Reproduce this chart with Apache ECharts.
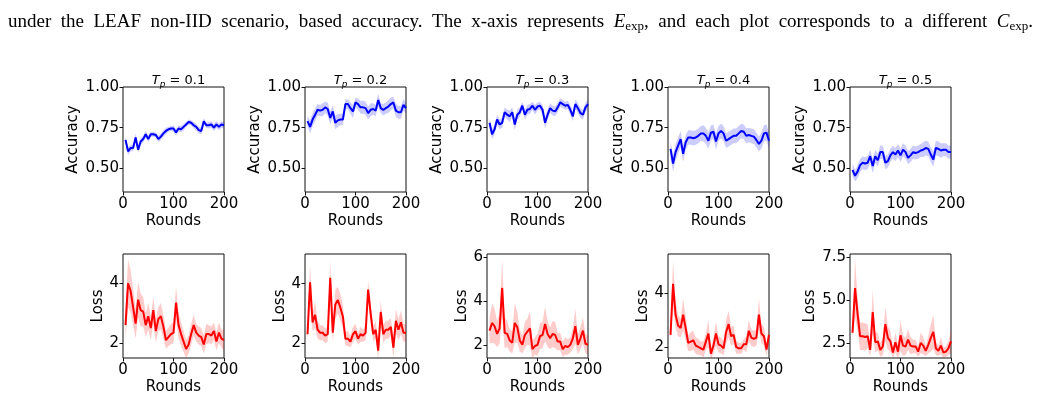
<!DOCTYPE html>
<html>
<head>
<meta charset="utf-8">
<script src="https://cdn.jsdelivr.net/npm/echarts@6/dist/echarts.min.js"></script>
<style>
  html, body { margin: 0; padding: 0; background: #fff; }
  #main { width: 1039px; height: 401px; }
</style>
</head>
<body>
<div id="main"></div>
<script>
// rounds (x) shared by all panels
const rounds = [5,10,15,20,25,30,35,40,45,50,55,60,65,70,75,80,85,90,95,100,
  105,110,115,120,125,130,135,140,145,150,155,160,165,170,175,180,185,190,195,200];
const tpLabels = ['0.1', '0.2', '0.3', '0.4', '0.5'];

// accuracy, mean and std
const accMean1 = [0.675,0.605,0.625,0.625,0.69,0.615,0.665,0.68,0.71,0.68,0.71,0.71,0.705,0.68,0.695,0.715,0.73,0.74,0.745,0.745,
  0.72,0.745,0.74,0.755,0.77,0.785,0.78,0.765,0.755,0.735,0.73,0.79,0.765,0.765,0.77,0.75,0.77,0.755,0.77,0.765];
const accStd1 = [0.02,0.025,0.02,0.02,0.025,0.02,0.02,0.02,0.02,0.02,0.015,0.015,0.015,0.02,0.02,0.02,0.02,0.015,0.015,0.02,
  0.02,0.02,0.02,0.02,0.015,0.015,0.015,0.02,0.02,0.02,0.02,0.02,0.015,0.02,0.02,0.02,0.02,0.02,0.02,0.02];
const accMean2 = [0.79,0.755,0.80,0.83,0.86,0.855,0.86,0.875,0.865,0.81,0.85,0.78,0.795,0.80,0.80,0.895,0.895,0.87,0.85,0.905,
  0.895,0.875,0.875,0.87,0.84,0.86,0.865,0.855,0.92,0.87,0.86,0.87,0.88,0.895,0.905,0.855,0.845,0.845,0.89,0.87];
const accStd2 = [0.03,0.04,0.04,0.04,0.035,0.035,0.04,0.035,0.04,0.04,0.04,0.04,0.04,0.035,0.035,0.03,0.03,0.035,0.04,0.03,
  0.035,0.04,0.04,0.04,0.04,0.04,0.035,0.035,0.04,0.03,0.035,0.035,0.04,0.04,0.035,0.04,0.04,0.04,0.035,0.035];
const accMean3 = [0.78,0.71,0.74,0.80,0.77,0.78,0.845,0.83,0.82,0.845,0.77,0.83,0.845,0.885,0.83,0.86,0.865,0.885,0.86,0.88,
  0.885,0.86,0.78,0.83,0.87,0.855,0.85,0.875,0.905,0.895,0.885,0.89,0.86,0.82,0.895,0.87,0.84,0.83,0.875,0.895];
const accStd3 = [0.03,0.03,0.03,0.03,0.03,0.03,0.03,0.03,0.035,0.03,0.035,0.03,0.03,0.025,0.03,0.03,0.03,0.025,0.03,0.025,
  0.025,0.03,0.035,0.03,0.03,0.03,0.03,0.03,0.025,0.025,0.025,0.025,0.03,0.03,0.03,0.03,0.03,0.03,0.03,0.03];
const accMean4 = [0.62,0.53,0.60,0.64,0.68,0.59,0.66,0.69,0.69,0.685,0.69,0.70,0.715,0.715,0.70,0.67,0.72,0.725,0.665,0.715,
  0.73,0.715,0.67,0.68,0.69,0.70,0.70,0.715,0.73,0.725,0.70,0.705,0.70,0.695,0.675,0.65,0.67,0.715,0.72,0.67];
const accStd4 = [0.05,0.05,0.05,0.05,0.05,0.05,0.045,0.045,0.045,0.045,0.045,0.045,0.045,0.05,0.05,0.05,0.045,0.045,0.05,0.045,
  0.045,0.045,0.045,0.045,0.045,0.045,0.045,0.045,0.045,0.045,0.045,0.045,0.045,0.045,0.045,0.045,0.05,0.05,0.05,0.05];
const accMean5 = [0.49,0.455,0.48,0.52,0.535,0.53,0.535,0.575,0.515,0.575,0.55,0.60,0.60,0.535,0.545,0.58,0.60,0.585,0.61,0.58,
  0.615,0.60,0.565,0.58,0.60,0.595,0.60,0.61,0.615,0.625,0.62,0.585,0.555,0.625,0.62,0.61,0.615,0.615,0.60,0.60];
const accStd5 = [0.04,0.035,0.04,0.04,0.04,0.04,0.04,0.04,0.045,0.04,0.04,0.04,0.04,0.04,0.04,0.04,0.04,0.04,0.04,0.04,
  0.04,0.04,0.04,0.04,0.04,0.04,0.04,0.04,0.045,0.045,0.045,0.045,0.045,0.045,0.045,0.045,0.04,0.04,0.04,0.04];

// loss, mean and std
const lossMean1 = [2.6,4.0,3.75,3.2,2.65,3.45,3.1,3.05,2.6,2.9,2.5,3.1,2.4,2.8,2.9,2.55,2.1,2.2,2.3,2.35,
  3.35,2.6,2.3,2.05,1.8,1.95,2.3,2.6,2.35,2.25,2.2,1.95,2.3,2.3,2.25,2.4,2.05,2.35,2.15,2.1];
const lossStd1 = [0.5,0.8,0.7,0.6,0.5,0.6,0.55,0.5,0.4,0.45,0.4,0.45,0.4,0.4,0.45,0.4,0.3,0.3,0.35,0.35,
  0.55,0.45,0.4,0.35,0.3,0.3,0.35,0.35,0.3,0.3,0.3,0.3,0.35,0.3,0.3,0.3,0.3,0.35,0.3,0.35];
const lossMean2 = [2.3,4.05,2.7,2.95,2.45,2.35,2.35,2.25,2.3,4.2,2.35,3.3,3.45,3.2,2.9,2.15,2.15,2.05,2.3,2.4,
  2.15,2.3,2.25,2.35,3.8,3.0,2.3,2.45,1.75,3.05,2.3,2.45,2.45,2.55,1.85,2.75,2.45,2.7,2.35,2.35];
const lossStd2 = [0.25,0.6,0.3,0.45,0.3,0.25,0.25,0.25,0.25,0.6,0.3,0.5,0.45,0.45,0.4,0.25,0.25,0.2,0.25,0.25,
  0.2,0.25,0.2,0.25,0.3,0.35,0.25,0.3,0.3,0.4,0.3,0.3,0.3,0.3,0.35,0.4,0.35,0.4,0.3,0.3];
const lossMean3 = [2.65,3.0,2.85,2.5,2.75,4.6,2.55,2.5,2.2,2.1,3.0,2.8,2.2,2.0,2.45,2.6,2.75,1.8,1.95,2.0,
  2.4,2.45,2.95,2.5,2.3,2.5,2.45,2.15,2.15,1.8,1.95,1.9,2.0,2.3,2.85,2.0,2.3,2.65,2.05,2.0];
const lossStd3 = [0.6,0.9,0.8,0.6,0.7,1.3,0.7,0.6,0.5,0.5,0.9,0.7,0.5,0.4,0.6,0.6,0.8,0.4,0.4,0.5,
  0.6,0.6,0.8,0.6,0.5,0.6,0.6,0.4,0.4,0.35,0.4,0.35,0.35,0.5,0.8,0.45,0.5,0.6,0.45,0.4];
const lossMean4 = [2.45,4.35,3.2,2.8,2.7,3.2,2.7,2.15,2.2,2.25,2.05,2.0,1.95,1.9,2.2,2.5,1.75,2.05,2.5,2.1,
  2.05,1.95,2.55,2.85,2.4,2.45,2.0,1.95,1.95,2.1,2.1,2.6,2.35,2.3,2.35,3.2,2.5,2.4,1.9,2.45];
const lossStd4 = [0.3,0.85,0.5,0.4,0.35,0.6,0.45,0.3,0.35,0.35,0.3,0.3,0.25,0.3,0.3,0.5,0.2,0.3,0.45,0.3,
  0.3,0.25,0.45,0.5,0.35,0.35,0.25,0.2,0.2,0.2,0.3,0.4,0.3,0.3,0.3,0.6,0.35,0.35,0.25,0.3];
const lossMean5 = [3.1,5.7,4.2,2.9,2.9,2.85,2.9,2.1,4.3,2.55,2.6,2.1,2.3,3.6,2.8,2.6,1.95,2.55,2.0,2.95,
  2.35,2.3,2.7,2.35,2.3,2.3,2.0,2.5,2.35,2.05,2.4,2.8,3.15,2.2,2.05,2.35,1.95,2.0,2.2,2.6];
const lossStd5 = [0.4,1.7,1.0,0.8,0.8,0.8,0.7,0.4,1.3,0.6,0.5,0.4,0.5,1.0,0.7,0.6,0.3,0.6,0.4,0.9,
  0.6,0.5,0.6,0.5,0.4,0.4,0.3,0.6,0.5,0.3,0.5,0.8,1.0,0.4,0.3,0.5,0.3,0.3,0.4,0.7];

// tick labels
const xTicks = [0, 100, 200];
const accTicks = [0.5, 0.75, 1.0];
const lossTicks = [[2, 4], [2, 4], [2, 4, 6], [2, 4], [2.5, 5.0, 7.5]];

// caption words (justified across the page)
const captionWords = ['under', 'the', 'LEAF', 'non-IID', 'scenario,', 'based', 'accuracy.', 'The', 'x-axis',
  'represents', ['E', 'exp', ','], 'and', 'each', 'plot', 'corresponds', 'to', 'a', 'different', ['C', 'exp', '.']];

const accMeans = [accMean1, accMean2, accMean3, accMean4, accMean5];
const accStds = [accStd1, accStd2, accStd3, accStd4, accStd5];
const lossMeans = [lossMean1, lossMean2, lossMean3, lossMean4, lossMean5];
const lossStds = [lossStd1, lossStd2, lossStd3, lossStd4, lossStd5];

// layout
const lefts = [123, 305, 487, 668, 850];
const plotW = 101;
const accRange = [0.355, 1.0];
const lossRanges = [[1.5, 4.98], [1.5, 5.0], [1.4, 6.15], [1.59, 5.46], [1.63, 7.69]];
const lossNameGap = [17, 17, 17, 17, 32];
const font = 'DejaVu Sans';

const grid = [], xAxis = [], yAxis = [], series = [], title = [];

function addPanel(idx, top, height, mean, std, yr, ticks, yName, nameGap, fmt, color, fill, showTitle, col) {
  grid.push({left: lefts[col], top: top, width: plotW, height: height,
    show: true, borderColor: '#111', borderWidth: 1, backgroundColor: 'transparent'});
  xAxis.push({
    type: 'value', gridIndex: idx, min: 0, max: 200,
    axisLine: {show: false},
    axisTick: {show: true, length: 3.5, lineStyle: {color: '#111'}, customValues: xTicks},
    axisLabel: {fontFamily: font, fontSize: 15, color: '#000', margin: 5, customValues: xTicks},
    splitLine: {show: false},
    name: 'Rounds', nameLocation: 'middle', nameGap: 22,
    nameTextStyle: {fontFamily: font, fontSize: 15, color: '#000'}
  });
  yAxis.push({
    type: 'value', gridIndex: idx, min: yr[0], max: yr[1],
    axisLine: {show: false},
    axisTick: {show: true, length: 3.5, lineStyle: {color: '#111'}, customValues: ticks},
    axisLabel: {fontFamily: font, fontSize: 15, color: '#000', margin: 4, customValues: ticks,
      formatter: fmt},
    splitLine: {show: false},
    name: yName, nameLocation: 'middle', nameGap: nameGap,
    nameTextStyle: {fontFamily: font, fontSize: 15, color: '#000'}
  });
  // shaded band: mean +/- std as one polygon through the axis scales
  series.push({
    type: 'custom', xAxisIndex: idx, yAxisIndex: idx, clip: true, silent: true, z: 1,
    data: [[rounds[0], mean[0]]],
    renderItem: (params, api) => {
      const pts = [];
      for (let k = 0; k < rounds.length; k++) pts.push(api.coord([rounds[k], mean[k] + std[k]]));
      for (let k = rounds.length - 1; k >= 0; k--) pts.push(api.coord([rounds[k], mean[k] - std[k]]));
      return {type: 'polygon', shape: {points: pts}, style: {fill: fill}};
    }
  });
  series.push({
    type: 'line', xAxisIndex: idx, yAxisIndex: idx,
    data: rounds.map((r, k) => [r, mean[k]]),
    symbol: 'none', lineStyle: {color: color, width: 2}, z: 5
  });
  if (showTitle) {
    title.push({
      text: '{t|T}{s|p}{n| = ' + tpLabels[col] + '}',
      left: lefts[col] + plotW / 2, top: 68, textAlign: 'center',
      textStyle: {
        fontWeight: 'normal',
        rich: {
          t: {fontFamily: font, fontSize: 13, fontStyle: 'italic', fontWeight: 'normal', color: '#000', lineHeight: 16},
          s: {fontFamily: font, fontSize: 9, fontStyle: 'italic', fontWeight: 'normal', color: '#000', lineHeight: 10, verticalAlign: 'bottom'},
          n: {fontFamily: font, fontSize: 13, fontWeight: 'normal', color: '#000', lineHeight: 16}
        }
      }
    });
  }
}

for (let c = 0; c < 5; c++) {
  addPanel(c, 87, 105, accMeans[c], accStds[c], accRange, accTicks, 'Accuracy', 42,
    (v) => v.toFixed(2), '#0000ff', 'rgba(0,0,255,0.2)', true, c);
}
for (let c = 0; c < 5; c++) {
  addPanel(5 + c, 254, 104, lossMeans[c], lossStds[c], lossRanges[c], lossTicks[c], 'Loss', lossNameGap[c],
    c === 4 ? (v) => v.toFixed(1) : (v) => String(v), '#ff0000', 'rgba(255,0,0,0.2)', false, c);
}

// caption: justified word by word between x0 and x1
const capSize = 19, capSub = 13, capX0 = 8, capX1 = 1033, capTop = 11;
const ctx = document.createElement('canvas').getContext('2d');
function measure(txt, size, italic) {
  ctx.font = (italic ? 'italic ' : '') + size + 'px "Liberation Serif"';
  return ctx.measureText(txt).width;
}
const capRich = {
  a: {fontFamily: 'Liberation Serif', fontSize: capSize, color: '#000', lineHeight: 22},
  e: {fontFamily: 'Liberation Serif', fontSize: capSize, fontStyle: 'italic', color: '#000', lineHeight: 22},
  s: {fontFamily: 'Liberation Serif', fontSize: capSub, color: '#000', lineHeight: 14, verticalAlign: 'bottom'}
};
const widths = captionWords.map((w) => Array.isArray(w)
  ? measure(w[0], capSize, true) + measure(w[1], capSub, false) + measure(w[2], capSize, false)
  : measure(w, capSize, false));
const gap = (capX1 - capX0 - widths.reduce((a, b) => a + b, 0)) / (captionWords.length - 1);
const graphic = [];
let cx = capX0;
captionWords.forEach((w, i) => {
  const txt = Array.isArray(w) ? '{e|' + w[0] + '}{s|' + w[1] + '}{a|' + w[2] + '}' : '{a|' + w + '}';
  graphic.push({type: 'text', x: cx, y: capTop, silent: true,
    style: {text: txt, rich: capRich, fill: '#000'}});
  cx += widths[i] + gap;
});

const myChart = echarts.init(document.getElementById('main'), null, {renderer: 'canvas'});
myChart.setOption({
  animation: false,
  backgroundColor: '#fff',
  title: title,
  graphic: graphic,
  grid: grid,
  xAxis: xAxis,
  yAxis: yAxis,
  series: series
});
</script>
</body>
</html>
